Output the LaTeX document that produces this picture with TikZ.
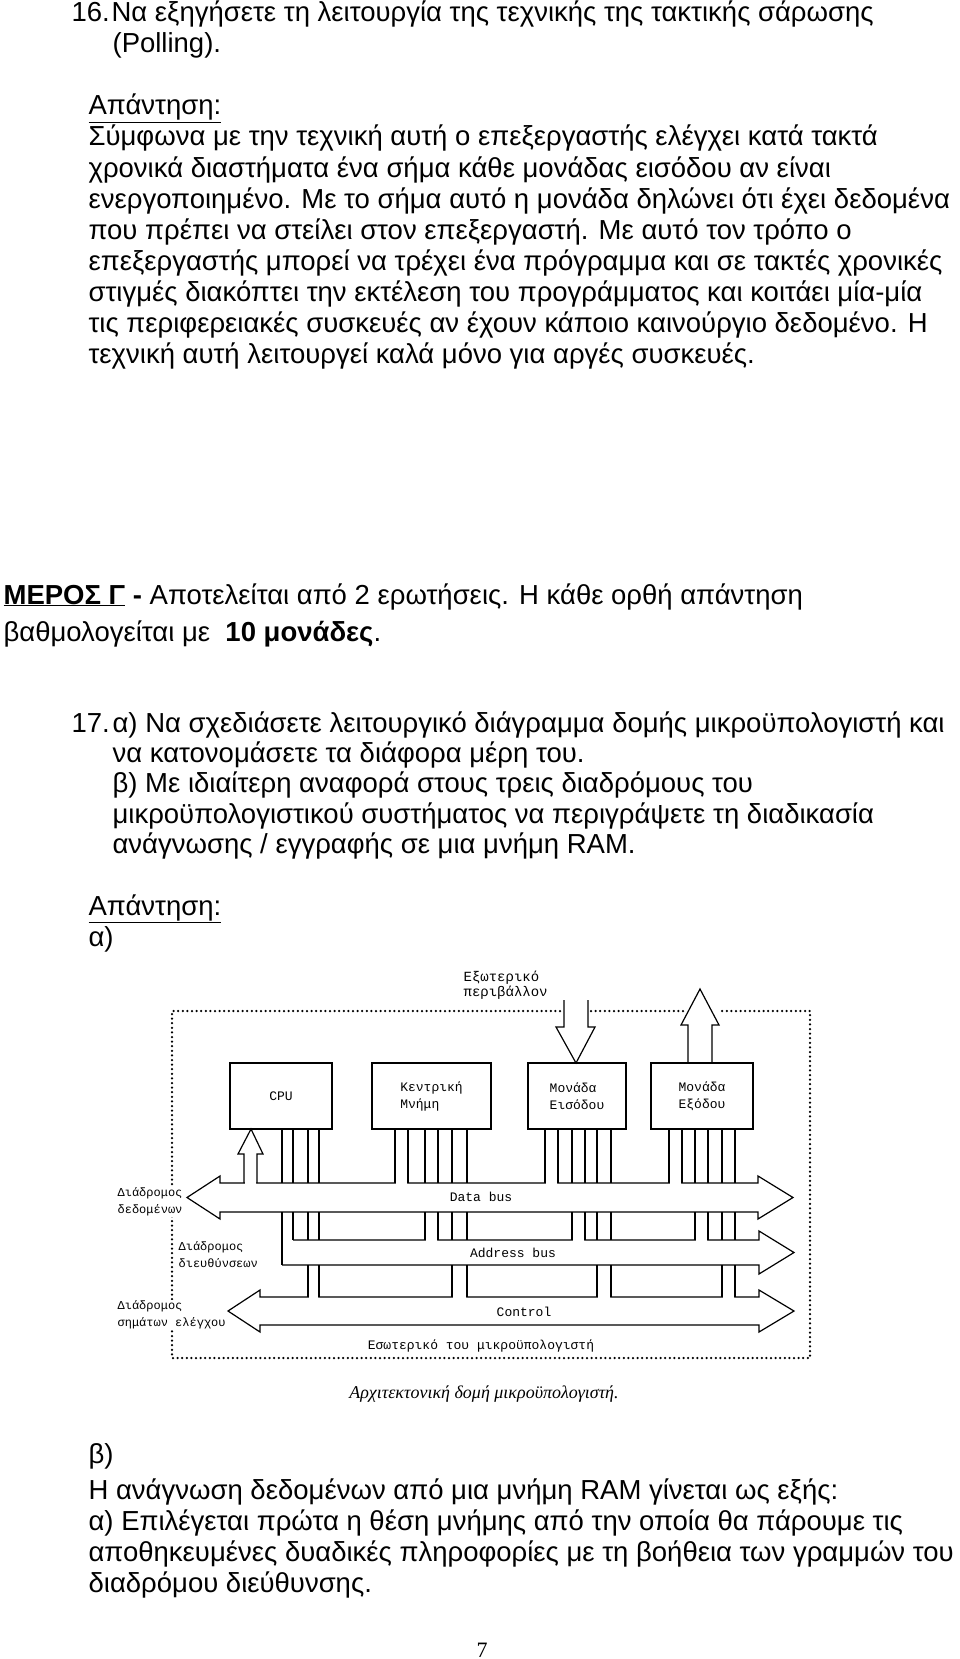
\documentclass[tikz,border=0pt]{standalone}
\usepackage{fontspec}
\setmainfont{Liberation Sans}
\newfontfamily\twfont{Liberation Mono}
\newfontfamily\capfont{Liberation Serif}
\usetikzlibrary{positioning}

\tikzset{
  txt/.style={anchor=base west, inner sep=0pt, font=\fontsize{27.5}{31}\selectfont},
  unitbox/.style={draw, minimum width=#1, minimum height=66pt, inner sep=0pt, align=left, font=\twfont\fontsize{13}{17}\selectfont},
  lbl/.style={inner sep=1pt, align=left, font=\twfont\fontsize{12}{17}\selectfont},
  buslbl/.style={inner sep=0pt, font=\twfont\fontsize{13}{15}\selectfont},
  dotframe/.style={line width=2.5pt, line cap=round, dash pattern=on 0pt off 4.6pt},
}

\begin{document}
\begin{tikzpicture}[x=1pt, y=-1pt, line width=1.2pt]
\useasboundingbox (0,0) rectangle (960,1659);

% question 16
\node[txt] (q16) at (71,22) {16.};
\node[txt] (q16a) at (111,22) {Να εξηγήσετε τη λειτουργία της τεχνικής της τακτικής σάρωσης};
\node[txt] (q16b) at (112,53) {(Polling).};
\node[txt] (ans16) at (88,115) {\underline{Απάντηση:}};
\node[txt] (a1) at (88,146) {Σύμφωνα με την τεχνική αυτή ο επεξεργαστής ελέγχει κατά τακτά};
\node[txt] (a2) at (88,177) {χρονικά διαστήματα ένα σήμα κάθε μονάδας εισόδου αν είναι};
\node[txt] (a3) at (88,208) {ενεργοποιημένο. Με το σήμα αυτό η μονάδα δηλώνει ότι έχει δεδομένα};
\node[txt] (a4) at (88,239) {που πρέπει να στείλει στον επεξεργαστή. Με αυτό τον τρόπο ο};
\node[txt] (a5) at (88,270) {επεξεργαστής μπορεί να τρέχει ένα πρόγραμμα και σε τακτές χρονικές};
\node[txt] (a6) at (88,301) {στιγμές διακόπτει την εκτέλεση του προγράμματος και κοιτάει μία-μία};
\node[txt] (a7) at (88,332) {τις περιφερειακές συσκευές αν έχουν κάποιο καινούργιο δεδομένο. Η};
\node[txt] (a8) at (88,363) {τεχνική αυτή λειτουργεί καλά μόνο για αργές συσκευές.};

% part C
\node[txt] (partc) at (3,604) {\textbf{\underline{ΜΕΡΟΣ Γ}} \textbf{-} Αποτελείται από 2 ερωτήσεις. Η κάθε ορθή απάντηση};
\node[txt] (partc2) at (3,641) {βαθμολογείται με \ \textbf{10 μονάδες}.};

% question 17
\node[txt] (q17) at (71,732) {17.};
\node[txt] (q17a) at (112,732) {α) Να σχεδιάσετε λειτουργικό διάγραμμα δομής μικροϋπολογιστή και};
\node[txt] (q17b) at (112,762) {να κατονομάσετε τα διάφορα μέρη του.};
\node[txt] (q17c) at (112,792) {β) Με ιδιαίτερη αναφορά στους τρεις διαδρόμους του};
\node[txt] (q17d) at (112,823) {μικροϋπολογιστικού συστήματος να περιγράψετε τη διαδικασία};
\node[txt] (q17e) at (112,853) {ανάγνωσης / εγγραφής σε μια μνήμη RAM.};
\node[txt] (ans17) at (88,915) {\underline{Απάντηση:}};
\node[txt] (ans17a) at (88,946) {α)};

% diagram frame
\draw[dotframe] (560,1011) -- (172,1011) -- (172,1358) -- (810,1358) -- (810,1011) -- (718,1011);
\draw[dotframe] (591,1011) -- (685,1011);

% units
\node[unitbox=102pt] (cpu) at (281,1096) {CPU};
\node[unitbox=119pt] (mem) at (431.5,1096) {Κεντρική\\Μνήμη};
\node[unitbox=98pt] (inp) at (577,1096) {Μονάδα\\Εισόδου};
\node[unitbox=102pt] (outp) at (702,1096) {Μονάδα\\Εξόδου};

% buses
\draw[line join=miter, fill=white] (220,1183) -- (758,1183) -- (758,1176) -- (793,1197.5) -- (758,1219) -- (758,1212) -- (220,1212) -- (220,1219) -- (187,1197.5) -- (220,1176) -- cycle;
\draw[line join=miter] (293,1240) -- (759,1240) -- (759,1231) -- (794,1252.5) -- (759,1274) -- (759,1265) -- (282,1265);
\draw[line join=miter] (260,1297) -- (759,1297) -- (759,1290) -- (794,1311) -- (759,1332) -- (759,1325) -- (260,1325) -- (260,1332) -- (228,1311) -- (260,1290) -- cycle;

% openings into the buses
\fill[white] (245,1181) rectangle (256,1185) (396,1181) rectangle (407,1185) (546,1181) rectangle (557,1185) (670,1181) rectangle (681,1185);
\fill[white] (426,1238) rectangle (437,1242) (573,1238) rectangle (584,1242) (696,1238) rectangle (707,1242);
\fill[white] (309,1295) rectangle (318,1299) (453,1295) rectangle (466,1299) (598,1295) rectangle (610,1299) (723,1295) rectangle (734,1299);

% in and out arrows
\draw[line join=miter] (244,1183) -- (244,1154) -- (238,1154) -- (251,1129) -- (263,1154) -- (257,1154) -- (257,1183);
\draw[line join=miter] (564,1000) -- (564,1027) -- (556,1027) -- (576,1063) -- (595,1027) -- (588,1027) -- (588,1000);
\draw[line join=miter] (688,1063) -- (688,1025) -- (681,1025) -- (700,989) -- (719,1025) -- (712,1025) -- (712,1063);

% lines down to the data bus
\draw (282,1129) -- (282,1183) (293,1129) -- (293,1183) (308,1129) -- (308,1183) (319,1129) -- (319,1183);
\draw (395,1129) -- (395,1183) (408,1129) -- (408,1183) (425,1129) -- (425,1183) (438,1129) -- (438,1183) (452,1129) -- (452,1183) (467,1129) -- (467,1183);
\draw (545,1129) -- (545,1183) (558,1129) -- (558,1183) (572,1129) -- (572,1183) (585,1129) -- (585,1183) (597,1129) -- (597,1183) (611,1129) -- (611,1183);
\draw (669,1129) -- (669,1183) (682,1129) -- (682,1183) (695,1129) -- (695,1183) (708,1129) -- (708,1183) (722,1129) -- (722,1183) (735,1129) -- (735,1183);

% lines down to the address bus
\draw (282,1212) -- (282,1265) (293,1212) -- (293,1240) (308,1212) -- (308,1240) (319,1212) -- (319,1240);
\draw (425,1212) -- (425,1240) (438,1212) -- (438,1240) (452,1212) -- (452,1240) (467,1212) -- (467,1240);
\draw (572,1212) -- (572,1240) (585,1212) -- (585,1240) (597,1212) -- (597,1240) (611,1212) -- (611,1240);
\draw (695,1212) -- (695,1240) (708,1212) -- (708,1240) (722,1212) -- (722,1240) (735,1212) -- (735,1240);

% lines down to the control bus
\draw (308,1265) -- (308,1297) (319,1265) -- (319,1297);
\draw (452,1265) -- (452,1297) (467,1265) -- (467,1297);
\draw (597,1265) -- (597,1297) (611,1265) -- (611,1297);
\draw (722,1265) -- (722,1297) (735,1265) -- (735,1297);

% labels
\node[lbl, anchor=west, font=\twfont\fontsize{14}{15}\selectfont] (lext) at (462,985) {Εξωτερικό\\περιβάλλον};
\node[lbl, anchor=west, fill=white] (ldata) at (116,1202) {Διάδρομος\\δεδομένων};
\node[lbl, anchor=west] (laddr) at (177,1255) {Διάδρομος\\διευθύνσεων};
\node[lbl, anchor=west, fill=white] (lctrl) at (116,1315) {Διάδρομος\\σημάτων ελέγχου};
\node[buslbl] (dbus) at (481,1197) {Data bus};
\node[buslbl] (abus) at (513,1253) {Address bus};
\node[buslbl] (cbus) at (524,1312) {Control};
\node[buslbl] (lint) at (481,1346) {Εσωτερικό του μικροϋπολογιστή};
\node[font=\capfont\itshape\fontsize{18}{20}\selectfont] (cap) at (484,1394) {Αρχιτεκτονική δομή μικροϋπολογιστή.};

% answer b
\node[txt] (ans17b) at (88,1463) {β)};
\node[txt] (b1) at (88,1499) {Η ανάγνωση δεδομένων από μια μνήμη RAM γίνεται ως εξής:};
\node[txt] (b2) at (88,1530) {α) Επιλέγεται πρώτα η θέση μνήμης από την οποία θα πάρουμε τις};
\node[txt] (b3) at (88,1561) {αποθηκευμένες δυαδικές πληροφορίες με τη βοήθεια των γραμμών του};
\node[txt] (b4) at (88,1592) {διαδρόμου διεύθυνσης.};
\node[anchor=base, inner sep=0pt, font=\capfont\fontsize{22}{24}\selectfont] (pg) at (482,1657) {7};
\end{tikzpicture}
\end{document}
